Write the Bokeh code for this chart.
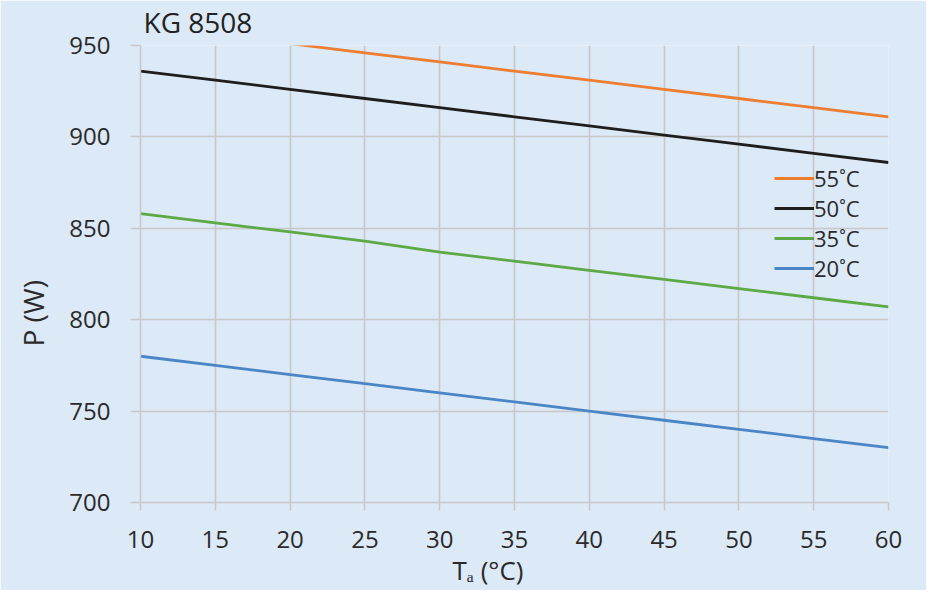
from bokeh.plotting import figure
from bokeh.models import Range1d, Legend, LegendItem, FixedTicker, Title
from bokeh.embed import file_html
from bokeh.resources import INLINE

ta = [10, 15, 20, 25, 30, 35, 40, 45, 50, 55, 60]
p55 = [961, 956, 951, 946, 941, 936, 931, 926, 921, 916, 911]
p50 = [936, 931, 926, 921, 916, 911, 906, 901, 896, 891, 886]
p35 = [858, 853, 848, 843, 837, 832, 827, 822, 817, 812, 807]
p20 = [780, 775, 770, 765, 760, 755, 750, 745, 740, 735, 730]
series_names = ["55˚C", "50˚C", "35˚C", "20˚C"]
series_colors = ["#ED7D31", "#1E1E1E", "#5BAA46", "#4A86C6"]
title_text = "KG 8508"
x_label = "Tₐ (°C)"
y_label = "P (W)"
x_ticks = [10, 15, 20, 25, 30, 35, 40, 45, 50, 55, 60]
y_ticks = [700, 750, 800, 850, 900, 950]

BG = "#DCE9F6"
FONT = "Open Sans"
TXT = "#2A2A2A"

p = figure(width=926, height=590, output_backend="svg", toolbar_location=None,
           x_range=Range1d(10, 60), y_range=Range1d(700, 950),
           min_border_left=140, min_border_right=38, min_border_top=45, min_border_bottom=87)
p.background_fill_color = BG
p.border_fill_color = BG
p.outline_line_color = None

p.title.text = title_text
p.title.align = "left"
p.title.vertical_align = "top"
p.title.offset = 3
p.title.standoff = 5
p.title.text_font = FONT
p.title.text_font_size = "28px"
p.title.text_font_style = "normal"
p.title.text_color = "#222222"

for ax in (p.xaxis[0], p.yaxis[0]):
    ax.axis_line_color = "#C8C8C8"
    ax.axis_line_width = 1.5
    ax.major_tick_line_color = "#C8C8C8"
    ax.major_tick_line_width = 1.5
    ax.major_tick_in = 0
    ax.minor_tick_line_color = None
    ax.major_label_text_font = FONT
    ax.major_label_text_font_size = "24px"
    ax.major_label_text_color = TXT

p.xaxis.ticker = FixedTicker(ticks=x_ticks)
p.yaxis.ticker = FixedTicker(ticks=y_ticks)
p.xaxis.major_tick_out = 8
p.yaxis.major_tick_out = 10
p.xaxis.major_label_standoff = 20
p.yaxis.major_label_standoff = 20

p.grid.grid_line_color = "#C8C8C8"
p.grid.grid_line_width = 1.6

xt = Title(text=x_label, align="left", offset=312, standoff=2, vertical_align="top",
           text_font=FONT, text_font_size="26px", text_font_style="normal", text_color=TXT)
p.add_layout(xt, "below")

yt = Title(text=y_label, align="left", offset=156, standoff=26, vertical_align="top",
           text_font=FONT, text_font_size="28px", text_font_style="normal", text_color=TXT)
p.add_layout(yt, "left")

items = []
for ys, name, col in zip([p55, p50, p35, p20], series_names, series_colors):
    r = p.line(ta, ys, line_color=col, line_width=2.8)
    items.append(LegendItem(label=name, renderers=[r]))

legend = Legend(items=items, location=(634, 219), background_fill_alpha=0,
                border_line_color=None, padding=0, margin=0, spacing=0,
                glyph_width=40, glyph_height=30, label_height=30,
                label_standoff=0, label_text_font=FONT,
                label_text_font_size="22px", label_text_color=TXT)
p.add_layout(legend, "center")

open("out.html", "w").write(file_html(p, INLINE))
